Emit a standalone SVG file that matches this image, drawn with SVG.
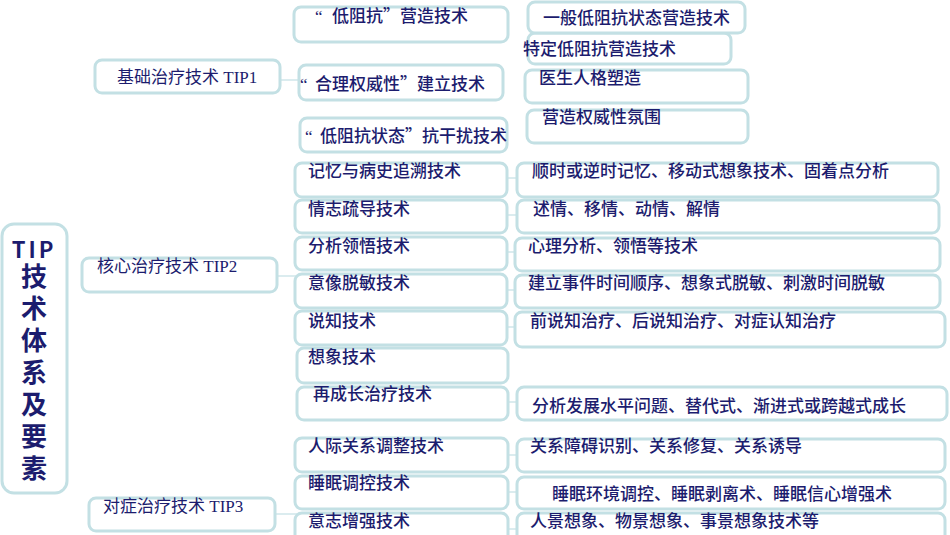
<svg xmlns="http://www.w3.org/2000/svg" width="950" height="535" viewBox="0 0 950 535">
<style>
.b{fill:#fff;stroke:#c3e0e4;stroke-width:3}
.t{font-family:"Noto Sans CJK SC","Liberation Sans",sans-serif;font-size:17px;font-weight:500;fill:#1c1c6e}
.q{font-family:"Liberation Serif",serif}
.s{font-family:"Liberation Serif","Noto Sans CJK SC",serif;font-size:17px;fill:#1c1c6e}
.r{font-family:"Noto Sans CJK SC","Liberation Sans",sans-serif;font-weight:bold;fill:#1c1c6e}
.c{stroke:#cfe6ea;stroke-width:1.5;fill:none}
</style>
<rect width="950" height="535" fill="#fff"/>
<g id="connectors">
<line class="c" x1="280" y1="80" x2="300" y2="80"/>
<line class="c" x1="277" y1="276" x2="297" y2="276"/>
<line class="c" x1="275" y1="514" x2="297" y2="514"/>
<line class="c" x1="503" y1="178" x2="517" y2="178"/>
<line class="c" x1="503" y1="215" x2="517" y2="215"/>
<line class="c" x1="503" y1="252" x2="515" y2="252"/>
<line class="c" x1="503" y1="290" x2="515" y2="290"/>
<line class="c" x1="503" y1="327" x2="515" y2="327"/>
<line class="c" x1="503" y1="402" x2="517" y2="402"/>
<line class="c" x1="503" y1="455" x2="517" y2="455"/>
<line class="c" x1="503" y1="492" x2="517" y2="492"/>
<line class="c" x1="503" y1="529" x2="517" y2="529"/>
</g>
<g id="root">
<rect class="b" x="2" y="224" width="65" height="269" rx="12"/>
<text class="r" x="34" y="258" font-size="22" letter-spacing="3" text-anchor="middle">TIP</text>
<text class="r" x="34" y="263" font-size="26" letter-spacing="6" style="writing-mode:vertical-rl">技术体系及要素</text>
</g>
<g id="tip1"><rect class="b" x="95" y="60" width="185" height="33" rx="7"/><text class="s" x="117" y="83">基础治疗技术 TIP1</text></g>
<g id="tip2"><rect class="b" x="82" y="258" width="195" height="34" rx="7"/><text class="s" x="97" y="272">核心治疗技术 TIP2</text></g>
<g id="tip3"><rect class="b" x="89" y="498" width="186" height="33" rx="7"/><text class="s" x="103" y="512">对症治疗技术 TIP3</text></g>
<g id="n1"><rect class="b" x="294" y="7" width="214" height="35" rx="7"/><text class="t" x="315" y="22"><tspan class="q">“</tspan><tspan x="332">低阻抗”营造技术</tspan></text></g>
<g id="n2"><rect class="b" x="299" y="65" width="204" height="35" rx="7"/><text class="t" x="300" y="90"><tspan class="q">“</tspan><tspan x="315">合理权威性”建立技术</tspan></text></g>
<g id="n3"><rect class="b" x="300" y="118" width="207" height="34" rx="7"/><text class="t" x="305" y="142"><tspan class="q">“</tspan><tspan x="320">低阻抗状态”抗干扰技术</tspan></text></g>
<g id="n4"><rect class="b" x="295" y="163" width="212" height="34" rx="7"/><text class="t" x="308" y="177">记忆与病史追溯技术</text></g>
<g id="n5"><rect class="b" x="295" y="200" width="212" height="33" rx="7"/><text class="t" x="308" y="215">情志疏导技术</text></g>
<g id="n6"><rect class="b" x="295" y="237" width="212" height="33" rx="7"/><text class="t" x="308" y="252">分析领悟技术</text></g>
<g id="n7"><rect class="b" x="295" y="274" width="212" height="34" rx="7"/><text class="t" x="308" y="289">意像脱敏技术</text></g>
<g id="n8"><rect class="b" x="295" y="311" width="212" height="34" rx="7"/><text class="t" x="308" y="327">说知技术</text></g>
<g id="n9"><rect class="b" x="297" y="348" width="211" height="35" rx="7"/><text class="t" x="308" y="363">想象技术</text></g>
<g id="n10"><rect class="b" x="297" y="387" width="211" height="33" rx="7"/><text class="t" x="313" y="400">再成长治疗技术</text></g>
<g id="n11"><rect class="b" x="295" y="438" width="213" height="34" rx="7"/><text class="t" x="308" y="452">人际关系调整技术</text></g>
<g id="n12"><rect class="b" x="295" y="476" width="213" height="33" rx="7"/><text class="t" x="308" y="489">睡眠调控技术</text></g>
<g id="n13"><rect class="b" x="295" y="513" width="213" height="34" rx="7"/><text class="t" x="308" y="527">意志增强技术</text></g>
<g id="m2"><rect class="b" x="528" y="33" width="203" height="31" rx="7"/><text class="t" x="523" y="55">特定低阻抗营造技术</text></g>
<g id="m1"><rect class="b" x="528" y="2" width="217" height="31" rx="7"/><text class="t" x="543" y="24">一般低阻抗状态营造技术</text></g>
<g id="m3"><rect class="b" x="525" y="70" width="223" height="33" rx="7"/><text class="t" x="539" y="84">医生人格塑造</text></g>
<g id="m4"><rect class="b" x="527" y="110" width="221" height="33" rx="7"/><text class="t" x="542" y="123">营造权威性氛围</text></g>
<g id="m5"><rect class="b" x="517" y="163" width="421" height="34" rx="7"/><text class="t" x="532" y="177">顺时或逆时记忆、移动式想象技术、固着点分析</text></g>
<g id="m6"><rect class="b" x="517" y="200" width="422" height="33" rx="7"/><text class="t" x="533" y="215">述情、移情、动情、解情</text></g>
<g id="m7"><rect class="b" x="515" y="238" width="425" height="33" rx="7"/><text class="t" x="528" y="252">心理分析、领悟等技术</text></g>
<g id="m8"><rect class="b" x="515" y="275" width="425" height="33" rx="7"/><text class="t" x="528" y="289">建立事件时间顺序、想象式脱敏、刺激时间脱敏</text></g>
<g id="m9"><rect class="b" x="515" y="312" width="430" height="35" rx="7"/><text class="t" x="530" y="327">前说知治疗、后说知治疗、对症认知治疗</text></g>
<g id="m10"><rect class="b" x="517" y="387" width="430" height="33" rx="7"/><text class="t" x="532" y="412">分析发展水平问题、替代式、渐进式或跨越式成长</text></g>
<g id="m11"><rect class="b" x="517" y="439" width="428" height="33" rx="7"/><text class="t" x="530" y="452">关系障碍识别、关系修复、关系诱导</text></g>
<g id="m12"><rect class="b" x="517" y="477" width="428" height="32" rx="7"/><text class="t" x="552" y="500">睡眠环境调控、睡眠剥离术、睡眠信心增强术</text></g>
<g id="m13"><rect class="b" x="517" y="513" width="428" height="34" rx="7"/><text class="t" x="530" y="527">人景想象、物景想象、事景想象技术等</text></g>
</svg>
